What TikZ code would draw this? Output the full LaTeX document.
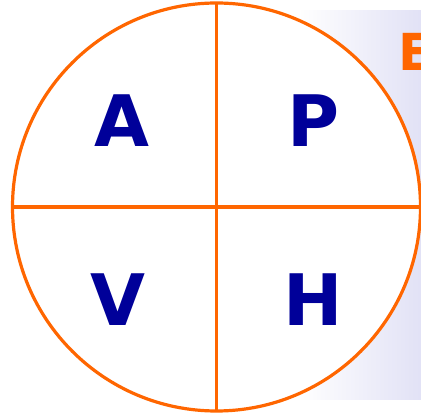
\documentclass[tikz,border=0pt]{standalone}
\usepackage{fontspec}
\setmainfont{DejaVu Sans}
\usetikzlibrary{fadings}
\definecolor{ring}{HTML}{FF6600}
\definecolor{letter}{HTML}{000099}
\definecolor{haze}{HTML}{E2E2F6}
\begin{document}
\begin{tikzpicture}[x=1pt,y=-1pt,
  quad/.style={inner sep=0pt,text=letter,font=\bfseries\fontsize{71}{71}\selectfont},
  rim/.style={draw=ring,line width=3.2pt}]
\useasboundingbox (0,0) rectangle (421,419);
\clip (0,0) rectangle (421,419);
\fill[white] (0,0) rectangle (421,419);
\fill[haze,path fading=west] (300,10) rectangle (421,400);
\coordinate (c) at (216.5,207);
\fill[white] (c) circle (204);
\draw[rim] (c) circle (204);
\coordinate (top) at (216.5,3);
\coordinate (bot) at (216.5,411);
\coordinate (lft) at (12.5,207);
\coordinate (rgt) at (420.5,207);
\draw[rim] (top) -- (bot);
\draw[rim] (lft) -- (rgt);
\node[quad] (A) at (122,121) {A};
\node[quad] (P) at (314,121) {P};
\node[quad] (V) at (118,300) {V};
\node[quad] (H) at (313,300) {H};
\node[inner sep=0pt,anchor=west,text=ring,font=\bfseries\fontsize{51}{51}\selectfont] (E) at (398,51.5) {E};
\end{tikzpicture}
\end{document}
